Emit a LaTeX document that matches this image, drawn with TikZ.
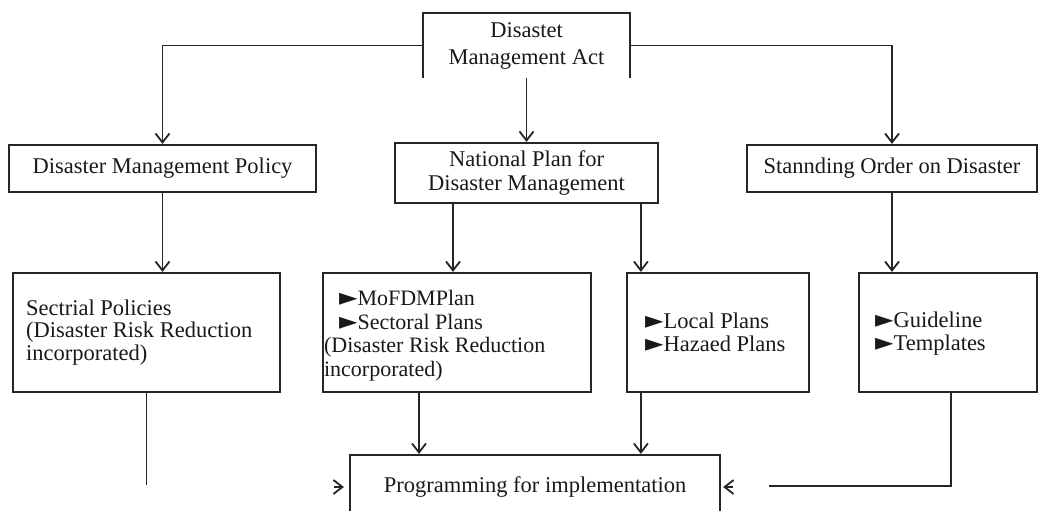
\documentclass[tikz,border=0pt]{standalone}
\usepackage{fontspec}
\setmainfont{Liberation Serif}
\newfontfamily\symf{DejaVu Sans}
\usetikzlibrary{arrows.meta,calc}
\newcommand{\bul}{\smash{{\symf\fontsize{24}{24}\selectfont ►}}}
\begin{document}
\begin{tikzpicture}[x=1pt,y=-1pt,
  every node/.style={font=\fontsize{22.5}{24}\selectfont, text=black!90},
  box/.style={draw=black!85, line width=2.2pt, inner sep=0pt},
  conn/.style={draw=black!85, line width=1.8pt},
  arr/.style={conn, -{Straight Barb[length=9pt,width=14pt]}},
  txt/.style={inner sep=0pt, align=left, anchor=west}]
\clip (0,0) rectangle (1039,511);
% top
\node[inner sep=0pt, minimum width=207, minimum height=65, align=center, font=\fontsize{22.5}{27}\selectfont] (act) at (526.5,45.5) {Disastet\\Management Act};
\draw[box] (act.south west) -- (act.north west) -- (act.north east) -- (act.south east);
% row 1
\node[box, minimum width=307, minimum height=47] (dmp) at (162.5,168.5) {Disaster Management Policy};
\node[box, minimum width=263, minimum height=60, align=center] (np) at (526.5,173) {National Plan for\\Disaster Management};
\node[box, minimum width=290, minimum height=47] (std) at (892,168.5) {Stannding Order on Disaster};
% row 2
\node[box, minimum width=267, minimum height=119] (sec) at (146.5,332.5) {};
\node[box, minimum width=268, minimum height=119] (mof) at (457,332.5) {};
\node[box, minimum width=182, minimum height=119] (loc) at (718,332.5) {};
\node[box, minimum width=178, minimum height=119] (gl) at (948,332.5) {};
\node[txt, font=\fontsize{22.5}{22.5}\selectfont] (sect) at ([xshift=14]sec.west) {Sectrial Policies\\(Disaster Risk Reduction\\incorporated)};
\node[txt, font=\fontsize{22}{23.5}\selectfont] (moft) at ([xshift=2,yshift=-3]mof.west) {\hspace*{15pt}\bul MoFDMPlan\\\hspace*{15pt}\bul Sectoral Plans\\(Disaster Risk Reduction\\incorporated)};
\node[txt, font=\fontsize{22.5}{23}\selectfont] (loct) at ([xshift=19]loc.west) {\bul Local Plans\\\bul Hazaed Plans};
\node[txt, font=\fontsize{22.5}{23}\selectfont] (glt) at ([xshift=17,yshift=-1]gl.west) {\bul Guideline\\\bul Templates};
% bottom
\node[box, minimum width=370, minimum height=64] (prog) at (535,487) {Programming for implementation};
% connectors
\draw[arr] (act.west) -| (dmp.north);
\draw[arr] (act.east) -| (std.north);
\draw[arr] (act.south) -- (np.north);
\draw[arr] (dmp.south) -- (dmp.south |- sec.north);
\draw[arr] ([xshift=-4]np.south -| mof.north) -- ([xshift=-4]mof.north);
\draw[arr] ([xshift=15]np.south -| loc.north west) -- ([xshift=15]loc.north west);
\draw[arr] (std.south) -- (std.south |- gl.north);
\coordinate (secend) at (146.5,485);
\draw[conn] (sec.south) -- (secend);
\draw[arr] ([xshift=-38]mof.south) -- ([xshift=-38]mof.south |- prog.north);
\draw[arr] ([xshift=15]loc.south west) -- ([xshift=15]loc.south west |- prog.north);
\coordinate (glend) at (769,486);
\draw[conn] ([xshift=3]gl.south) |- (glend);
\draw[arr] ([xshift=-15]prog.west) -- ([xshift=-5]prog.west);
\draw[arr] ([xshift=12]prog.east) -- ([xshift=2]prog.east);
\end{tikzpicture}
\end{document}
